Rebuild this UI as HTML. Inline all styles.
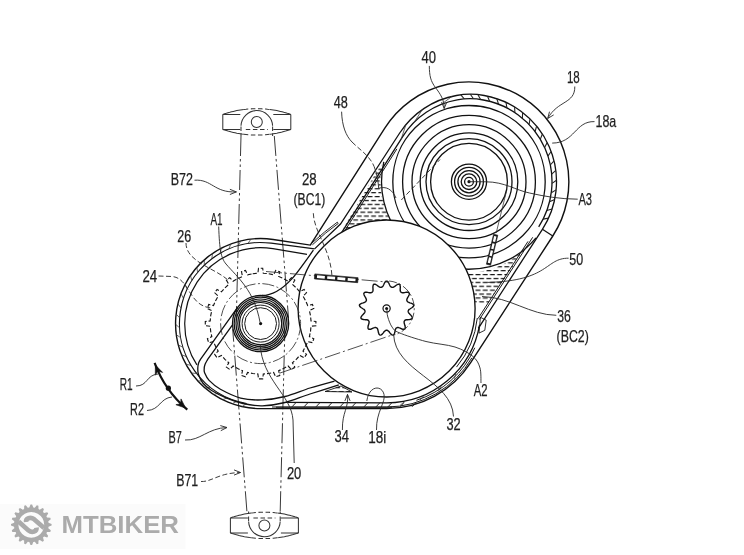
<!DOCTYPE html>
<html><head><meta charset="utf-8"><title>Patent drawing</title>
<style>html,body{margin:0;padding:0;background:#fff}body{width:744px;height:555px;overflow:hidden;font-family:"Liberation Sans",sans-serif}svg{display:block;will-change:transform}text{font-family:"Liberation Sans",sans-serif}</style>
</head><body>
<svg width="744" height="555" viewBox="0 0 744 555">
<defs>
<pattern id="liq" width="7.2" height="7.8" patternUnits="userSpaceOnUse"><path d="M0.4,1.6H5.2M4,5.5H8.8M-3.2,5.5H1.6" stroke="#111" stroke-width="1.3" fill="none"/></pattern>
<clipPath id="clipHousing"><path d="M310.3,245.1L384.8,128.1A99.8 99.8 0 0 1 522.9,97.7A99.8 99.8 0 0 1 552.8,236L470.5,362.9A100 100 0 0 1 386.6,408.5L260.6,408.6A85 85 0 0 1 175.8,317.3A85 85 0 0 1 273.2,239.5Z"/></clipPath>
</defs>
<rect width="744" height="555" fill="#fff"/>
<path d="M241,136 L236.3,318" fill="none" stroke="#333" stroke-width="0.97" stroke-dasharray="20 3 2.5 3 2.5 3"/>
<path d="M274.3,136 L288.5,318" fill="none" stroke="#333" stroke-width="0.97" stroke-dasharray="20 3 2.5 3 2.5 3"/>
<path d="M280.2,511.2 L284.9,329.2" fill="none" stroke="#333" stroke-width="0.97" stroke-dasharray="20 3 2.5 3 2.5 3"/>
<path d="M246.9,511.2 L232.7,329.2" fill="none" stroke="#333" stroke-width="0.97" stroke-dasharray="20 3 2.5 3 2.5 3"/>
<path d="M222.8,114.4L224.6,113.8L226.3,113.3L228.1,112.7L229.8,112.3L231.6,111.8L233.3,111.4L235.1,111L236.8,110.6L238.6,110.3L240.3,110L242.1,109.7L243.8,109.5" fill="none" stroke="#333" stroke-width="1.03" />
<path d="M269.8,109.5L271.6,109.7L273.3,110L275.1,110.3L276.8,110.6L278.6,111L280.3,111.4L282.1,111.8L283.8,112.3L285.6,112.7L287.3,113.3L289.1,113.8L290.8,114.4" fill="none" stroke="#333" stroke-width="1.03" />
<path d="M243.8,109.5L246,109.3L248.1,109L250.3,108.9L252.5,108.8L254.6,108.7L256.8,108.7L259,108.7L261.1,108.8L263.3,108.9L265.5,109L267.6,109.3L269.8,109.5" fill="none" stroke="#333" stroke-width="1.03" stroke-dasharray="4.5 2.6"/>
<path d="M222.8,129.4L224.6,130L226.3,130.5L228.1,131.1L229.8,131.5L231.6,132L233.3,132.4L235.1,132.8L236.8,133.2L238.6,133.5L240.3,133.8L242.1,134.1L243.8,134.3" fill="none" stroke="#333" stroke-width="1.03" />
<path d="M269.8,134.3L271.6,134.1L273.3,133.8L275.1,133.5L276.8,133.2L278.6,132.8L280.3,132.4L282.1,132L283.8,131.5L285.6,131.1L287.3,130.5L289.1,130L290.8,129.4" fill="none" stroke="#333" stroke-width="1.03" />
<path d="M243.8,134.3L246,134.5L248.1,134.8L250.3,134.9L252.5,135L254.6,135.1L256.8,135.1L259,135.1L261.1,135L263.3,134.9L265.5,134.8L267.6,134.5L269.8,134.3" fill="none" stroke="#333" stroke-width="1.03" stroke-dasharray="4.5 2.6"/>
<path d="M222.8,114.4 V129.4 M290.8,114.4 V129.4" fill="none" stroke="#333" stroke-width="1.03" />
<path d="M222.8,114.4 H240.3 M273.3,114.4 H290.8" fill="none" stroke="#333" stroke-width="1.03" />
<path d="M222.8,129.4 H240.3 M273.3,129.4 H290.8" fill="none" stroke="#333" stroke-width="1.03" />
<path d="M245.8,129.4 H267.8" fill="none" stroke="#333" stroke-width="1.03" stroke-dasharray="4.5 2.6"/>
<circle cx="256.8" cy="121.9" r="5.5" fill="none" stroke="#333" stroke-width="1.03" />
<path d="M241,125.8A15.8 15.8 0 0 1 256.8,110.6A15.8 15.8 0 0 1 272.6,125.8" fill="none" stroke="#333" stroke-width="1.03" />
<path d="M241,126.4 V135.9 M272.6,126.4 V135.9" fill="none" stroke="#333" stroke-width="1.03" stroke-dasharray="4.5 2.6"/>
<path d="M230.4,517.9L232.1,517.3L233.9,516.8L235.6,516.2L237.4,515.8L239.1,515.3L240.9,514.9L242.6,514.5L244.4,514.1L246.1,513.8L247.9,513.5L249.6,513.2L251.4,513" fill="none" stroke="#333" stroke-width="1.03" />
<path d="M277.4,513L279.1,513.2L280.9,513.5L282.6,513.8L284.4,514.1L286.1,514.5L287.9,514.9L289.6,515.3L291.4,515.8L293.1,516.2L294.9,516.8L296.6,517.3L298.4,517.9" fill="none" stroke="#333" stroke-width="1.03" />
<path d="M251.4,513L253.6,512.8L255.7,512.5L257.9,512.4L260.1,512.3L262.2,512.2L264.4,512.2L266.6,512.2L268.7,512.3L270.9,512.4L273.1,512.5L275.2,512.8L277.4,513" fill="none" stroke="#333" stroke-width="1.03" stroke-dasharray="4.5 2.6"/>
<path d="M230.4,532.9L232.1,533.5L233.9,534L235.6,534.6L237.4,535L239.1,535.5L240.9,535.9L242.6,536.3L244.4,536.7L246.1,537L247.9,537.3L249.6,537.6L251.4,537.8" fill="none" stroke="#333" stroke-width="1.03" />
<path d="M277.4,537.8L279.1,537.6L280.9,537.3L282.6,537L284.4,536.7L286.1,536.3L287.9,535.9L289.6,535.5L291.4,535L293.1,534.6L294.9,534L296.6,533.5L298.4,532.9" fill="none" stroke="#333" stroke-width="1.03" />
<path d="M251.4,537.8L253.6,538L255.7,538.3L257.9,538.4L260.1,538.5L262.2,538.6L264.4,538.6L266.6,538.6L268.7,538.5L270.9,538.4L273.1,538.3L275.2,538L277.4,537.8" fill="none" stroke="#333" stroke-width="1.03" stroke-dasharray="4.5 2.6"/>
<path d="M230.4,517.9 V532.9 M298.4,517.9 V532.9" fill="none" stroke="#333" stroke-width="1.03" />
<path d="M230.4,517.9 H247.9 M280.9,517.9 H298.4" fill="none" stroke="#333" stroke-width="1.03" />
<path d="M230.4,532.9 H247.9 M280.9,532.9 H298.4" fill="none" stroke="#333" stroke-width="1.03" />
<path d="M253.4,517.9 H275.4" fill="none" stroke="#333" stroke-width="1.03" stroke-dasharray="4.5 2.6"/>
<circle cx="264.4" cy="525.4" r="5.5" fill="none" stroke="#333" stroke-width="1.03" />
<path d="M280.2,521.5A15.8 15.8 0 0 1 264.4,536.7A15.8 15.8 0 0 1 248.6,521.5" fill="none" stroke="#333" stroke-width="1.03" />
<path d="M248.6,520.9 V511.4 M280.2,520.9 V511.4" fill="none" stroke="#333" stroke-width="1.03" stroke-dasharray="4.5 2.6"/>
<circle cx="469" cy="181.7" r="17.6" fill="none" stroke="#111" stroke-width="1.3" />
<circle cx="469" cy="181.7" r="14.4" fill="none" stroke="#111" stroke-width="1.3" />
<circle cx="469" cy="181.7" r="11.1" fill="none" stroke="#111" stroke-width="1.3" />
<circle cx="469" cy="181.7" r="7.8" fill="none" stroke="#111" stroke-width="1.3" />
<circle cx="469" cy="181.7" r="4.4" fill="none" stroke="#111" stroke-width="1.3" />
<circle cx="469" cy="181.7" r="1.6" fill="#111" stroke="#111" stroke-width="0" />
<circle cx="469" cy="181.7" r="38.4" fill="none" stroke="#111" stroke-width="1.3" />
<circle cx="469" cy="181.7" r="43" fill="none" stroke="#111" stroke-width="1.3" />
<circle cx="469" cy="181.7" r="48.8" fill="none" stroke="#111" stroke-width="1.3" />
<circle cx="469" cy="181.7" r="57" fill="none" stroke="#111" stroke-width="1.3" />
<circle cx="469" cy="181.7" r="66.4" fill="none" stroke="#111" stroke-width="1.3" />
<circle cx="469" cy="181.7" r="76.2" fill="none" stroke="#111" stroke-width="1.3" />
<path d="M314.6,248.9L340.5,224L399.7,133A85.3 85.3 0 0 1 456.4,95.5Q470.3,92.9 484.2,95.5A87.5 87.5 0 0 1 542.4,229.3L478.3,328.3" fill="none" stroke="#111" stroke-width="1.3" />
<path d="M341.6,232.7L403,136.1A80.8 80.8 0 0 1 457.2,99.9Q470.3,97.5 483.4,100A83 83 0 0 1 538.7,226.8" fill="none" stroke="#111" stroke-width="1.3" />
<path d="M344.1,231.9L396.9,148.9" fill="none" stroke="#111" stroke-width="0.97" />
<path d="M464.4,99L460.8,94.8M473.5,98.7L470.3,94.2M480.6,99.5L477.8,94.6M489.6,101.3L487.5,96.2M498.5,104.1L496.9,98.8M506.9,107.9L506,102.4M514.9,112.6L514.6,107M522.4,118.1L522.6,112.6M529.1,124.5L530,119M535.1,131.5L536.6,126.2M540.3,139.2L542.4,134M544.6,147.4L547.2,142.5M547.9,156.1L551.1,151.5M550.3,165L554,160.8M551.7,174.2L555.8,170.4M552,183.4L556.5,180.2M551.3,192.7L556.1,189.9M549.5,201.8L554.7,199.6M546.8,210.6L552.1,209M543.1,219.1L548.6,218.1" fill="none" stroke="#222" stroke-width="1.08" />
<path d="M440.9,104.6L452,96.4M414.1,122.4L422.3,109.6M401.2,139.1L405.9,124.7" fill="none" stroke="#333" stroke-width="0.76" />
<path d="M536,237.9A87.5 87.5 0 0 1 436.2,262.8" fill="none" stroke="#111" stroke-width="1.3" />
<path d="M383.8,161.9A87.5 87.5 0 0 0 402,237.9" fill="none" stroke="#111" stroke-width="1.3" />
<path d="M528,241.4L478,318.6" fill="none" stroke="#111" stroke-width="0.97" />
<path d="M532.7,237.3L479.4,319.5" fill="none" stroke="#111" stroke-width="0.97" />
<path d="M542.4,229.3L552.8,236" fill="none" stroke="#111" stroke-width="1.3" />
<path d="M340,234 L382.5,161.6 A87.5 87.5 0 0 0 392.3,223.8 L386,262 Z" fill="url(#liq)" stroke="#111" stroke-width="0" />
<path d="M460,273 A87.5 87.5 0 0 0 524.6,249.3 L487.8,303.5 L440,300 Z" fill="url(#liq)" stroke="#111" stroke-width="0" />
<path d="M506.5,191 L496.2,233" fill="none" stroke="#333" stroke-width="0.76" />
<path d="M493.6,234.2L486.4,264.2L490.6,265.2L497.8,235.2Z" fill="#1a1a1a" stroke="#1a1a1a" stroke-width="0.65" />
<path d="M495.3,236.3L494,241.8M493.6,243.4L492.3,248.9M491.9,250.5L490.6,256M490.2,257.6L488.9,263.1" fill="none" stroke="#fff" stroke-width="2.38" />
<path d="M479.6,324.9A94.4 94.4 0 0 1 386.6,402.9L286,402.4" fill="none" stroke="#111" stroke-width="1.3" />
<path d="M474.8,347.8A96.5 96.5 0 0 1 416.4,400.3" fill="none" stroke="#111" stroke-width="0.97" />
<path d="M471.9,357.8A98.5 98.5 0 0 1 386.6,407L272,407" fill="none" stroke="#111" stroke-width="0.97" />
<path d="M477.3,318A91.2 91.2 0 0 1 456.5,367.1" fill="none" stroke="#111" stroke-width="0.97" />
<path d="M480.4,317.3L486.2,320.2L484.8,330.3L479,333.1Z" fill="none" stroke="#111" stroke-width="0.86" />
<circle cx="386.6" cy="308.5" r="88.5" fill="#fff" stroke="#111" stroke-width="1.35" />
<path d="M292,406.8L296,402.6M304,406.8L308,402.6M316,406.8L320,402.6M328,406.8L332,402.6M340,406.8L344,402.6M352,406.8L356,402.6M364,406.8L368,402.6M376,406.8L380,402.6M388,406.8L392,402.6M400,406.8L404,402.6M412,406.8L416,402.6" fill="none" stroke="#222" stroke-width="0.97" />
<path d="M276,407.2H392" fill="none" stroke="#111" stroke-width="0.97" />
<path d="M400.2,405.2L404.7,401.6M420,400.2L423.6,395.8M438.3,391.3L441,386.2M454.4,378.7L455.9,373.2" fill="none" stroke="#333" stroke-width="0.76" />
<path d="M310.3,245.1L384.8,128.1A99.8 99.8 0 0 1 522.9,97.7A99.8 99.8 0 0 1 552.8,236L470.5,362.9A100 100 0 0 1 386.6,408.5L260.6,408.6A85 85 0 0 1 175.8,317.3A85 85 0 0 1 273.2,239.5Z" fill="none" stroke="#111" stroke-width="1.4" />
<path d="M314.6,248.9L271.2,243.2A81.1 81.1 0 0 0 180.4,311.3A81.1 81.1 0 0 0 246.5,403.5" fill="none" stroke="#111" stroke-width="1.19" />
<path d="M307,254.3L272.9,248.7A75.9 75.9 0 0 0 197.1,282.1A75.9 75.9 0 0 0 196.9,364.9" fill="none" stroke="#111" stroke-width="1.19" />
<path d="M246.5,403.5L242.2,406.6M236.9,401.2L232.2,403.7M227.6,397.7L222.7,399.7M218.8,393.1L213.7,394.5M210.7,387.5L205.4,388.2M203.3,380.9L197.9,381M196.7,373.5L191.4,373M191.1,365.4L185.9,364.2M186.5,356.6L181.5,354.8M183,347.3L178.3,344.9M180.7,337.7L176.3,334.7M179.6,327.8L175.6,324.3M179.7,317.9L176.1,314M181,308.1L177.9,303.8M183.5,298.5L181,293.8M187.1,289.3L185.2,284.4M191.8,280.6L190.5,275.5M197.6,272.6L196.9,267.3M204.3,265.3L204.3,259.9M211.8,258.8L212.5,253.5M220,253.4L221.4,248.2M228.9,248.9L230.8,244M238.2,245.6L240.8,240.9M247.9,243.5L251,239.1" fill="none" stroke="#3a3a3a" stroke-width="0.76" />
<path d="M311.3,243.6 Q325,231 337.3,222.2 L338.2,223.5 Q326,232 312.4,244.8" fill="none" stroke="#151515" stroke-width="0.92" />
<path d="M313.4,250.1 C307,259 298,272 291.8,278.9 C283,288.5 274,295.5 262,295.5" fill="none" stroke="#111" stroke-width="1.3" />
<path d="M237.8,307.2L201,358.5C200.6,359.2 199.1,361.4 198.6,363C198.1,364.6 197.8,366.1 197.8,368C197.8,369.9 197.6,371.6 198.4,374.1C199.2,376.6 200.6,380.3 202.8,383C205,385.7 207.6,388 211.6,390.5C215.6,393 221.5,395.9 226.7,398.1C231.9,400.3 237.1,402.2 243,403.5C248.9,404.8 255.3,406 262.3,405.8C269.3,405.6 277.1,404.5 285,402.5C292.9,400.5 301,396.9 310,394C319,391.1 334,386.3 338.8,384.8" fill="none" stroke="#111" stroke-width="1.3" />
<path d="M232.5,324.9L207.5,359.7C207.1,360.5 205.6,362.9 205,364.5C204.4,366.1 204.2,367.6 204.2,369C204.1,370.4 203.9,371 204.7,372.9C205.5,374.8 206.5,377.7 209.1,380.4C211.7,383.1 215.2,386.4 220.4,389.3C225.7,392.2 233.6,396.3 240.6,398.1C247.6,399.9 254.9,400.2 262.3,399.9C269.7,399.6 277.1,398.5 285,396.5C292.9,394.5 301.8,390.6 310,388C318.2,385.4 330.4,382.2 334.5,381.1" fill="none" stroke="#111" stroke-width="1.3" />
<path d="M325,391.5 L352,392 L341,386Z" fill="url(#liq)" stroke="#111" stroke-width="0.86" />
<circle cx="260.6" cy="323.6" r="28.1" fill="none" stroke="#111" stroke-width="1.3" />
<circle cx="260.6" cy="323.6" r="26.4" fill="none" stroke="#111" stroke-width="1.24" />
<circle cx="260.6" cy="323.6" r="24.6" fill="none" stroke="#111" stroke-width="1.24" />
<circle cx="260.6" cy="323.6" r="22.8" fill="none" stroke="#111" stroke-width="1.24" />
<circle cx="260.6" cy="323.6" r="21.1" fill="none" stroke="#111" stroke-width="1.24" />
<circle cx="260.6" cy="323.6" r="18.5" fill="none" stroke="#111" stroke-width="0.97" />
<circle cx="260.6" cy="323.6" r="15.9" fill="none" stroke="#111" stroke-width="0.97" />
<circle cx="260.6" cy="323.6" r="1.6" fill="#111" stroke="#111" stroke-width="0" />
<circle cx="260.6" cy="323.6" r="40" fill="none" stroke="#333" stroke-width="0.86" stroke-dasharray="12 2.5 2 2.5"/>
<path d="M252.7,273.7L257.9,273.2L258.5,268.3L262.7,268.3L263.3,273.2L268.5,273.7L273.6,274.8L275.7,270.4L279.7,271.7L278.7,276.5L283.5,278.6L288.1,281.2L291.4,277.7L294.8,280.1L292.4,284.4L296.3,287.9L299.8,291.8L304.1,289.4L306.5,292.8L303,296.1L305.6,300.7L307.7,305.5L312.5,304.5L313.8,308.5L309.4,310.6L310.5,315.7L311,320.9L315.9,321.5L315.9,325.7L311,326.3L310.5,331.5L309.4,336.6L313.8,338.7L312.5,342.7L307.7,341.7L305.6,346.5L303,351.1L306.5,354.4L304.1,357.8L299.8,355.4L296.3,359.3L292.4,362.8L294.8,367.1L291.4,369.5L288.1,366L283.5,368.6L278.7,370.7L279.7,375.5L275.7,376.8L273.6,372.4L268.5,373.5L263.3,374L262.7,378.9L258.5,378.9L257.9,374L252.7,373.5L247.6,372.4L245.5,376.8L241.5,375.5L242.5,370.7L237.7,368.6L233.1,366L229.8,369.5L226.4,367.1L228.8,362.8L224.9,359.3L221.4,355.4L217.1,357.8L214.7,354.4L218.2,351.1L215.6,346.5L213.5,341.7L208.7,342.7L207.4,338.7L211.8,336.6L210.7,331.5L210.2,326.3L205.3,325.7L205.3,321.5L210.2,320.9L210.7,315.7L211.8,310.6L207.4,308.5L208.7,304.5L213.5,305.5L215.6,300.7L218.2,296.1L214.7,292.8L217.1,289.4L221.4,291.8L224.9,287.9L228.8,284.4L226.4,280.1L229.8,277.7L233.1,281.2L237.7,278.6L242.5,276.5L241.5,271.7L245.5,270.4L247.6,274.8Z" fill="none" stroke="#151515" stroke-width="1.13" stroke-dasharray="4.2 2"/>
<path d="M410.6,308.5L409.9,309L409.2,309.4L408.8,309.8L408.5,310.3L408.3,310.7L408.2,311.1L408.2,311.6L408.3,312L408.5,312.5L408.8,313L409.3,313.6L409.9,314.2L410.6,314.9L411.2,315.6L411.7,316.3L412.1,317L412.3,317.7L412.2,318.2L411.9,318.7L411.3,319L410.6,319.3L409.7,319.5L408.8,319.6L407.8,319.7L407,319.7L406.2,319.8L405.6,320L405.1,320.2L404.8,320.5L404.5,320.9L404.3,321.3L404.1,321.7L404.1,322.2L404.2,322.8L404.3,323.6L404.6,324.4L404.8,325.3L405.1,326.2L405.2,327.1L405.2,327.9L405.1,328.5L404.8,329L404.3,329.3L403.6,329.3L402.8,329.2L402,329L401.1,328.6L400.2,328.2L399.4,327.9L398.7,327.7L398.1,327.5L397.6,327.5L397.1,327.6L396.7,327.8L396.4,328L396,328.3L395.7,328.8L395.5,329.3L395.3,330.1L395.1,330.9L394.9,331.9L394.7,332.8L394.4,333.6L394.1,334.3L393.7,334.8L393.2,335.1L392.6,335.1L392,334.9L391.3,334.4L390.7,333.8L390.1,333.1L389.5,332.3L388.9,331.6L388.4,331.1L387.9,330.7L387.5,330.4L387,330.3L386.6,330.3L386.2,330.3L385.7,330.4L385.3,330.7L384.8,331.1L384.3,331.6L383.7,332.3L383.1,333.1L382.5,333.8L381.9,334.4L381.2,334.9L380.6,335.1L380,335.1L379.5,334.8L379.1,334.3L378.8,333.6L378.5,332.8L378.3,331.9L378.1,330.9L377.9,330.1L377.7,329.3L377.5,328.8L377.2,328.3L376.8,328L376.5,327.8L376.1,327.6L375.6,327.5L375.1,327.5L374.5,327.7L373.8,327.9L373,328.2L372.1,328.6L371.2,329L370.4,329.2L369.6,329.3L368.9,329.3L368.4,329L368.1,328.5L368,327.9L368,327.1L368.1,326.2L368.4,325.3L368.6,324.4L368.9,323.6L369,322.8L369.1,322.2L369.1,321.7L368.9,321.3L368.7,320.9L368.4,320.5L368.1,320.2L367.6,320L367,319.8L366.2,319.7L365.4,319.7L364.4,319.6L363.5,319.5L362.6,319.3L361.9,319L361.3,318.7L361,318.2L360.9,317.7L361.1,317L361.5,316.3L362,315.6L362.6,314.9L363.3,314.2L363.9,313.6L364.4,313L364.7,312.5L364.9,312L365,311.6L365,311.1L364.9,310.7L364.7,310.3L364.4,309.8L364,309.4L363.3,309L362.6,308.5L361.8,308L361,307.5L360.3,306.9L359.8,306.3L359.5,305.8L359.4,305.2L359.6,304.7L360,304.2L360.7,303.8L361.5,303.4L362.4,303.1L363.3,302.8L364.1,302.5L364.8,302.2L365.4,301.9L365.8,301.6L366,301.2L366.2,300.8L366.4,300.4L366.4,299.9L366.3,299.4L366.1,298.8L365.8,298.1L365.4,297.3L364.9,296.5L364.4,295.7L364.1,294.9L363.9,294.1L363.8,293.5L364.1,292.9L364.5,292.6L365.1,292.3L365.9,292.3L366.8,292.3L367.7,292.4L368.6,292.6L369.5,292.7L370.3,292.8L370.9,292.8L371.4,292.7L371.8,292.5L372.1,292.2L372.5,291.9L372.7,291.5L372.9,291L373,290.4L373,289.6L373,288.8L372.9,287.8L372.9,286.9L373,286L373.2,285.2L373.4,284.6L373.9,284.2L374.4,284.1L375.1,284.2L375.8,284.5L376.6,285L377.3,285.5L378.1,286.1L378.8,286.6L379.4,287L380,287.3L380.5,287.4L381,287.4L381.4,287.3L381.8,287.2L382.2,287L382.6,286.6L383,286.1L383.3,285.5L383.7,284.7L384.1,283.8L384.5,283L385,282.2L385.5,281.6L386.1,281.2L386.6,281.1L387.1,281.2L387.7,281.6L388.2,282.2L388.7,283L389.1,283.8L389.5,284.7L389.9,285.5L390.2,286.1L390.6,286.6L391,287L391.4,287.2L391.8,287.3L392.2,287.4L392.7,287.4L393.2,287.3L393.8,287L394.4,286.6L395.1,286.1L395.9,285.5L396.6,285L397.4,284.5L398.1,284.2L398.8,284.1L399.3,284.2L399.8,284.6L400,285.2L400.2,286L400.3,286.9L400.3,287.8L400.2,288.8L400.2,289.6L400.2,290.4L400.3,291L400.5,291.5L400.7,291.9L401.1,292.2L401.4,292.5L401.8,292.7L402.3,292.8L402.9,292.8L403.7,292.7L404.6,292.6L405.5,292.4L406.4,292.3L407.3,292.3L408.1,292.3L408.7,292.6L409.1,292.9L409.4,293.5L409.3,294.1L409.1,294.9L408.8,295.7L408.3,296.5L407.8,297.3L407.4,298.1L407.1,298.8L406.9,299.4L406.8,299.9L406.8,300.4L407,300.8L407.2,301.2L407.4,301.6L407.8,301.9L408.4,302.2L409.1,302.5L409.9,302.8L410.8,303.1L411.7,303.4L412.5,303.8L413.2,304.2L413.6,304.7L413.8,305.2L413.7,305.8L413.4,306.3L412.9,306.9L412.2,307.5L411.4,308L410.6,308.5Z" fill="none" stroke="#111" stroke-width="1.4" />
<circle cx="386.6" cy="308.5" r="3.6" fill="none" stroke="#111" stroke-width="1.19" />
<circle cx="386.6" cy="308.5" r="1.5" fill="#111" stroke="#111" stroke-width="0" />
<path d="M266,271.5L389,282.2" fill="none" stroke="#333" stroke-width="0.86" stroke-dasharray="16 3 2 3"/>
<path d="M279.5,373.2L394.5,334.2" fill="none" stroke="#333" stroke-width="0.86" stroke-dasharray="16 3 2 3"/>
<path d="M389.1,281A27.6 27.6 0 0 1 414.1,305.6A27.6 27.6 0 0 1 394.7,334.9" fill="none" stroke="#333" stroke-width="0.86" stroke-dasharray="8 2.5 2 2.5"/>
<path d="M314.4,278.9L357.7,282.7L358.1,277.7L314.8,273.9Z" fill="#1a1a1a" stroke="#1a1a1a" stroke-width="0.65" />
<path d="M317,276.6L324.8,277.3M327.2,277.5L335.1,278.2M337.4,278.4L345.3,279.1M347.7,279.3L355.5,280" fill="none" stroke="#fff" stroke-width="2.7" />
<path d="M154.6,362.8A113 113 0 0 0 187.3,409.6" fill="none" stroke="#111" stroke-width="2.16" />
<path d="M155.4,365L162.6,372.4L157.8,371L155.3,375.2Z" fill="#111" stroke="#111" stroke-width="0.65" />
<path d="M185.6,408.1L175.9,404.7L180.7,403.8L181,398.9Z" fill="#111" stroke="#111" stroke-width="0.65" />
<circle cx="168.4" cy="388.2" r="2.6" fill="#111" stroke="#111" stroke-width="0" />
<path d="M429.3,65.9 C429.5,76 430.5,81 435.6,87.7 C440,93.5 444.5,100 444.2,108.5" fill="none" stroke="#2a2a2a" stroke-width="0.92" />
<path d="M441.6,102L444.2,108.5L446.8,102" fill="none" stroke="#2a2a2a" stroke-width="0.92" />
<path d="M574.8,86.5 C575,104 558,100 547.7,118.5" fill="none" stroke="#2a2a2a" stroke-width="0.92" />
<path d="M549.5,111.7L547.7,118.5L553.7,114.9" fill="none" stroke="#2a2a2a" stroke-width="0.92" />
<path d="M594.5,121.6 C575,121 575,143 552.2,143.1" fill="none" stroke="#2a2a2a" stroke-width="0.92" />
<path d="M469,181.7 L486,181.8 C505,182 515,190 529.5,193 C545,196.5 560,199 577.7,199.2" fill="none" stroke="#2a2a2a" stroke-width="0.92" />
<path d="M568.6,258.2 C545,258 550,281 487.4,282.4" fill="none" stroke="#2a2a2a" stroke-width="0.92" />
<path d="M556.3,315.3 C530,315 510,297 482,296.5" fill="none" stroke="#2a2a2a" stroke-width="0.92" />
<path d="M386.8,309C387,310.3 386.9,314 387.8,317C388.7,320 390.2,324.5 392.1,327.1C394,329.7 393.7,330.4 399.3,332.8C404.9,335.2 416.7,339.1 426,341.5C435.3,343.9 447.2,344.5 455,347C462.8,349.5 468.8,353 473,356.5C477.2,360 478.7,363.6 480,368C481.3,372.4 480.8,380.5 481,383" fill="none" stroke="#2a2a2a" stroke-width="0.92" />
<path d="M453.5,416.5 C452,380 395,372 393.6,334.3" fill="none" stroke="#2a2a2a" stroke-width="0.92" />
<path d="M342.4,430 C342,412 349,408 347.5,394.4" fill="none" stroke="#2a2a2a" stroke-width="0.92" />
<path d="M350.1,400.9L347.5,394.4L344.9,400.9" fill="none" stroke="#2a2a2a" stroke-width="0.92" />
<path d="M376.5,430 C376,412 386,402 384,394.4 C382,385 369,385 366.8,401" fill="none" stroke="#2a2a2a" stroke-width="0.92" />
<path d="M294.2,463 L293,420 C291.5,395 262,380 260.1,344" fill="none" stroke="#2a2a2a" stroke-width="0.92" />
<path d="M218.7,226.5 C219.5,250 221,258 226,264 C238,278 254,290 260,322" fill="none" stroke="#2a2a2a" stroke-width="0.92" />
<path d="M186,243 C186,262 215,268 228.5,280.5" fill="none" stroke="#2a2a2a" stroke-width="0.92" stroke-dasharray="5 2.5"/>
<path d="M158.5,276 L172,276.5 C190,278 188,306 211.5,308" fill="none" stroke="#2a2a2a" stroke-width="0.92" stroke-dasharray="5 2.5"/>
<path d="M194.5,180.2 C212,179 214,193 236.4,191.9" fill="none" stroke="#2a2a2a" stroke-width="0.92" />
<path d="M229.9,194.5L236.4,191.9L229.9,189.3" fill="none" stroke="#2a2a2a" stroke-width="0.92" />
<path d="M185,440 C200,441 208,428 227,427.5" fill="none" stroke="#2a2a2a" stroke-width="0.92" />
<path d="M220.8,430.7L227,427.5L220.3,425.6" fill="none" stroke="#2a2a2a" stroke-width="0.92" />
<path d="M201,481.5 C212,482 218,473 240.5,472.5" fill="none" stroke="#2a2a2a" stroke-width="0.92" stroke-dasharray="5 2.5"/>
<path d="M234,475.1L240.5,472.5L234,469.9" fill="none" stroke="#2a2a2a" stroke-width="0.92" />
<path d="M136,386 C148,386 146,375 158,374" fill="none" stroke="#2a2a2a" stroke-width="0.92" />
<path d="M147,410.5 C160,410 160,398 172,397" fill="none" stroke="#2a2a2a" stroke-width="0.92" />
<path d="M313.3,213.2 C314,232 330,248 331.9,275.3" fill="none" stroke="#2a2a2a" stroke-width="0.92" stroke-dasharray="5 2.5"/>
<path d="M341.6,111.7 C342,126 346,136 352,142" fill="none" stroke="#2a2a2a" stroke-width="0.92" />
<path d="M352,142 C360,150 370,156 374.2,166.7" fill="none" stroke="#2a2a2a" stroke-width="0.92" stroke-dasharray="5 2.5"/>
<path d="M374.2,166.7 C377,174 378,180 378.7,188.3 M378.7,188.3 C386,186 392,189 396,198" fill="none" stroke="#2a2a2a" stroke-width="0.92" />
<path d="M401.3,200 L440,159.5" fill="none" stroke="#2a2a2a" stroke-width="0.92" stroke-dasharray="5 2.5"/>
<g>
<text x="421.6" y="63" font-size="16.2" textLength="14.5" lengthAdjust="spacingAndGlyphs" fill="#1e1e1e" stroke="#1e1e1e" stroke-width="0.25">40</text>
<text x="566.9" y="82.7" font-size="16.2" textLength="12.9" lengthAdjust="spacingAndGlyphs" fill="#1e1e1e" stroke="#1e1e1e" stroke-width="0.25">18</text>
<text x="595.5" y="126.6" font-size="16.2" textLength="20.8" lengthAdjust="spacingAndGlyphs" fill="#1e1e1e" stroke="#1e1e1e" stroke-width="0.25">18a</text>
<text x="333.7" y="108" font-size="16.2" textLength="14.1" lengthAdjust="spacingAndGlyphs" fill="#1e1e1e" stroke="#1e1e1e" stroke-width="0.25">48</text>
<text x="170.8" y="185.3" font-size="16.2" textLength="22.2" lengthAdjust="spacingAndGlyphs" fill="#1e1e1e" stroke="#1e1e1e" stroke-width="0.25">B72</text>
<text x="302" y="184.7" font-size="16.2" textLength="14.7" lengthAdjust="spacingAndGlyphs" fill="#1e1e1e" stroke="#1e1e1e" stroke-width="0.25">28</text>
<text x="293.5" y="204.9" font-size="15.6" textLength="31.7" lengthAdjust="spacingAndGlyphs" fill="#1e1e1e" stroke="#1e1e1e" stroke-width="0.25">(BC1)</text>
<text x="210.4" y="224.6" font-size="16.2" textLength="12.1" lengthAdjust="spacingAndGlyphs" fill="#1e1e1e" stroke="#1e1e1e" stroke-width="0.25">A1</text>
<text x="177.3" y="241.7" font-size="16.2" textLength="13.9" lengthAdjust="spacingAndGlyphs" fill="#1e1e1e" stroke="#1e1e1e" stroke-width="0.25">26</text>
<text x="142.4" y="282" font-size="16.2" textLength="14.8" lengthAdjust="spacingAndGlyphs" fill="#1e1e1e" stroke="#1e1e1e" stroke-width="0.25">24</text>
<text x="578.4" y="205.3" font-size="16.2" textLength="13.6" lengthAdjust="spacingAndGlyphs" fill="#1e1e1e" stroke="#1e1e1e" stroke-width="0.25">A3</text>
<text x="569.3" y="264.5" font-size="16.2" textLength="13.9" lengthAdjust="spacingAndGlyphs" fill="#1e1e1e" stroke="#1e1e1e" stroke-width="0.25">50</text>
<text x="557.3" y="322" font-size="16.2" textLength="13.6" lengthAdjust="spacingAndGlyphs" fill="#1e1e1e" stroke="#1e1e1e" stroke-width="0.25">36</text>
<text x="556.6" y="342" font-size="15.6" textLength="32.2" lengthAdjust="spacingAndGlyphs" fill="#1e1e1e" stroke="#1e1e1e" stroke-width="0.25">(BC2)</text>
<text x="473.8" y="395.7" font-size="16.2" textLength="13.8" lengthAdjust="spacingAndGlyphs" fill="#1e1e1e" stroke="#1e1e1e" stroke-width="0.25">A2</text>
<text x="446.5" y="430.3" font-size="16.2" textLength="14.2" lengthAdjust="spacingAndGlyphs" fill="#1e1e1e" stroke="#1e1e1e" stroke-width="0.25">32</text>
<text x="334.5" y="442.4" font-size="16.2" textLength="14.5" lengthAdjust="spacingAndGlyphs" fill="#1e1e1e" stroke="#1e1e1e" stroke-width="0.25">34</text>
<text x="368.2" y="443" font-size="16.2" textLength="18" lengthAdjust="spacingAndGlyphs" fill="#1e1e1e" stroke="#1e1e1e" stroke-width="0.25">18i</text>
<text x="286.9" y="478.9" font-size="16.2" textLength="14.4" lengthAdjust="spacingAndGlyphs" fill="#1e1e1e" stroke="#1e1e1e" stroke-width="0.25">20</text>
<text x="119.8" y="390" font-size="16.2" textLength="12.9" lengthAdjust="spacingAndGlyphs" fill="#1e1e1e" stroke="#1e1e1e" stroke-width="0.25">R1</text>
<text x="130.1" y="415" font-size="16.2" textLength="13.9" lengthAdjust="spacingAndGlyphs" fill="#1e1e1e" stroke="#1e1e1e" stroke-width="0.25">R2</text>
<text x="168.4" y="442.5" font-size="16.2" textLength="13.3" lengthAdjust="spacingAndGlyphs" fill="#1e1e1e" stroke="#1e1e1e" stroke-width="0.25">B7</text>
<text x="176.2" y="486.2" font-size="16.2" textLength="22" lengthAdjust="spacingAndGlyphs" fill="#1e1e1e" stroke="#1e1e1e" stroke-width="0.25">B71</text>
</g>
<g id="wm">
<rect x="0" y="504" width="185.5" height="45" fill="#fbfbfb"/>
<path d="M48.5,522.8L51.6,524L51.6,525.6L48.5,526.8L48.3,528.3L50.8,530.3L50.3,531.9L47,532L46.4,533.3L48.2,536.1L47.2,537.4L44.1,536.5L43,537.6L43.9,540.7L42.6,541.7L39.8,539.9L38.5,540.5L38.4,543.8L36.8,544.3L34.8,541.8L33.3,542L32.1,545.1L30.5,545.1L29.3,542L27.8,541.8L25.8,544.3L24.2,543.8L24.1,540.5L22.8,539.9L20,541.7L18.7,540.7L19.6,537.6L18.5,536.5L15.4,537.4L14.4,536.1L16.2,533.3L15.6,532L12.3,531.9L11.8,530.3L14.3,528.3L14.1,526.8L11,525.6L11,524L14.1,522.8L14.3,521.3L11.8,519.3L12.3,517.7L15.6,517.6L16.2,516.3L14.4,513.5L15.4,512.2L18.5,513.1L19.6,512L18.7,508.9L20,507.9L22.8,509.7L24.1,509.1L24.2,505.8L25.8,505.3L27.8,507.8L29.3,507.6L30.5,504.5L32.1,504.5L33.3,507.6L34.8,507.8L36.8,505.3L38.4,505.8L38.5,509.1L39.8,509.7L42.6,507.9L43.9,508.9L43,512L44.1,513.1L47.2,512.2L48.2,513.5L46.4,516.3L47,517.6L50.3,517.7L50.8,519.3L48.3,521.3Z M31.3,511.9 a12.9,12.9 0 1 0 0.01,0Z" fill="#ababab" fill-rule="evenodd"/>
<g fill="none" stroke="#ababab" stroke-width="4.7" transform="translate(31.3,524.8)">
<path d="M-5.2,-2.8 C-5.8,-6.6 -0.8,-8.3 2.8,-5.6 L12.8,3.2"/>
<path d="M5.2,2.8 C5.8,6.6 0.8,8.3 -2.8,5.6 L-12.8,-3.2"/>
</g>
<text x="61.5" y="533.4" font-size="23.6" font-weight="bold" fill="#ababab" textLength="117.5" lengthAdjust="spacingAndGlyphs">MTBIKER</text>
</g>
</svg>
</body></html>
